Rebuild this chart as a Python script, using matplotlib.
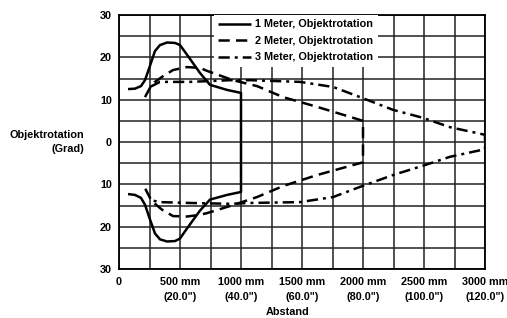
import matplotlib
matplotlib.use('Agg')
import matplotlib.pyplot as plt

plt.rcParams['font.family'] = ['Liberation Sans', 'DejaVu Sans']
plt.rcParams['font.weight'] = 'bold'

# 1 Meter (Abstand mm, Grad)
m1_x_oben = [74, 131, 180, 213, 254, 295, 336, 394, 459, 500, 558, 664, 746, 886, 1000]
m1_y_oben = [12.5, 12.6, 13.2, 14.6, 18.0, 21.5, 22.9, 23.5, 23.4, 22.9, 20.6, 16.3, 13.5, 12.3, 11.6]
m1_x_unten = [74, 131, 180, 213, 254, 295, 336, 394, 459, 500, 558, 664, 746, 886, 1000]
m1_y_unten = [-12.3, -12.5, -13.2, -14.8, -18.3, -21.6, -23.0, -23.5, -23.4, -22.8, -20.4, -16.2, -13.6, -12.5, -11.8]

# 2 Meter
m2_x_oben = [213, 254, 295, 353, 443, 558, 664, 722, 935, 1132, 1345, 1624, 2000]
m2_y_oben = [10.6, 12.8, 14.2, 15.4, 17.0, 17.7, 17.5, 16.8, 14.6, 13.2, 10.6, 8.3, 5.0]
m2_x_unten = [213, 254, 295, 353, 443, 558, 664, 722, 935, 1132, 1345, 1624, 2000]
m2_y_unten = [-10.9, -13.2, -14.6, -16.0, -17.5, -17.6, -17.2, -16.8, -14.9, -13.0, -10.4, -7.8, -4.8]

# 3 Meter
m3_x_oben = [254, 336, 582, 910, 1074, 1484, 1755, 1976, 2246, 2492, 2713, 3000]
m3_y_oben = [13.0, 14.2, 14.2, 14.6, 14.6, 14.2, 13.0, 10.6, 7.6, 5.7, 3.5, 1.7]
m3_x_unten = [254, 336, 582, 910, 1074, 1484, 1755, 1976, 2246, 2492, 2713, 3000]
m3_y_unten = [-13.7, -14.2, -14.4, -14.6, -14.4, -14.2, -13.0, -10.6, -7.8, -5.6, -3.5, -1.7]

labels = ['1 Meter, Objektrotation', '2 Meter, Objektrotation', '3 Meter, Objektrotation']

x_ticks = [0, 250, 500, 750, 1000, 1250, 1500, 1750, 2000, 2250, 2500, 2750, 3000]
x_ticklabels = ['0', '', '500 mm\n(20.0")', '', '1000 mm\n(40.0")', '', '1500 mm\n(60.0")', '',
                '2000 mm\n(80.0")', '', '2500 mm\n(100.0")', '', '3000 mm\n(120.0")']
y_ticks = [-30, -25, -20, -15, -10, -5, 0, 5, 10, 15, 20, 25, 30]
y_ticklabels = ['30', '', '20', '', '10', '', '0', '', '10', '', '20', '', '30']

fs = 7.8

fig = plt.figure(figsize=(5.07, 3.18), dpi=100)
ax = fig.add_axes([119/507, 1-269/318, 366/507, 254/318])

lw = 1.8
dash = (0, (4.5, 2.5))
dashdot = (0, (4.5, 2.0, 1.2, 2.0))

def kurve(xs, ys, ls, lbl=None):
    ax.plot(xs, ys, color='black', lw=lw, linestyle=ls, label=lbl, solid_capstyle='butt', dash_capstyle='butt')

# oben, senkrecht bei der Reichweite, unten
kurve(m1_x_oben + m1_x_unten[::-1], m1_y_oben + m1_y_unten[::-1], '-', labels[0])
kurve(m2_x_oben + m2_x_unten[::-1], m2_y_oben + m2_y_unten[::-1], dash, labels[1])
kurve(m3_x_oben + m3_x_unten[::-1], m3_y_oben + m3_y_unten[::-1], dashdot, labels[2])

ax.set_xlim(0, 3000)
ax.set_ylim(-30, 30)
ax.set_xticks(x_ticks)
ax.set_xticklabels(x_ticklabels, fontsize=fs, linespacing=1.55)
ax.set_yticks(y_ticks)
ax.set_yticklabels(y_ticklabels, fontsize=fs)
ax.tick_params(length=0, pad=5)
ax.tick_params(axis='x', pad=6)
ax.grid(True, color='#222222', lw=1.1)
ax.set_axisbelow(True)
for s in ax.spines.values():
    s.set_linewidth(1.3)

fig.text(84/507, 1-142/318, 'Objektrotation\n(Grad)', ha='right', va='center', fontsize=fs,
         linespacing=1.5, fontweight='bold')
fig.text(288/507, 1-312/318, 'Abstand', ha='center', va='center', fontsize=fs, fontweight='bold')

leg = ax.legend(loc='upper left', bbox_to_anchor=(0.26, 1.0), borderaxespad=0, frameon=True,
                fancybox=False, edgecolor='white', framealpha=1, fontsize=fs,
                handlelength=3.0, handletextpad=0.4, labelspacing=0.6, borderpad=0.4)
leg.get_frame().set_linewidth(0)

fig.savefig('out.png', dpi=100)
